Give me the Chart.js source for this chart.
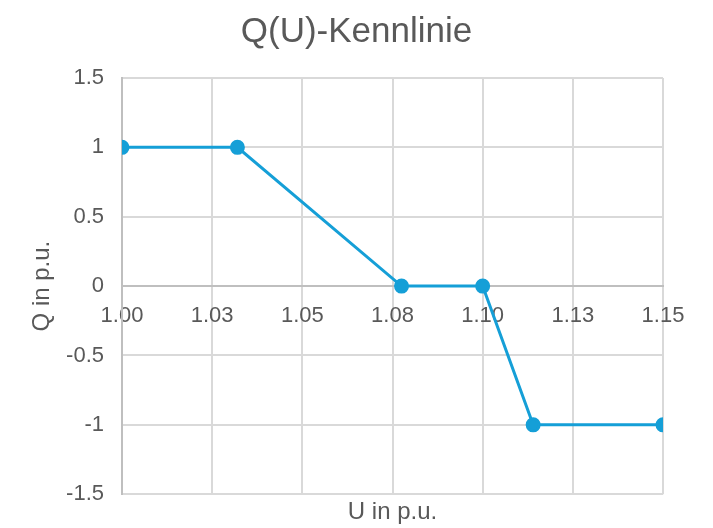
<!DOCTYPE html>
<html>
<head>
<meta charset="utf-8">
<script src="https://cdn.jsdelivr.net/npm/chart.js@4/dist/chart.umd.min.js"></script>
<style>
  html, body { margin: 0; padding: 0; background: #fff; }
  #wrap { width: 713px; height: 528px; }
</style>
</head>
<body>
<div id="wrap"><canvas id="qu"></canvas></div>
<script>
// Q(U) characteristic points
const uValues = [1.00, 1.032, 1.0775, 1.10, 1.114, 1.15];
const qValues = [1, 1, 0, 0, -1, -1];
const xTickLabels = ['1.00', '1.03', '1.05', '1.08', '1.10', '1.13', '1.15'];
const yTickLabels = ['-1.5', '-1', '-0.5', '0', '0.5', '1', '1.5'];

const textColor = '#595959';
const lineColor = '#159fd7';
const font = 'Arial, "Liberation Sans", sans-serif';

Chart.defaults.font.family = font;
Chart.defaults.color = textColor;

const points = uValues.map((u, i) => ({ x: u, y: qValues[i] }));

new Chart(document.getElementById('qu'), {
    type: 'scatter',
    data: {
        datasets: [{
            data: points,
            showLine: true,
            borderColor: lineColor,
            backgroundColor: lineColor,
            borderWidth: 3,
            pointRadius: 6,
            pointHoverRadius: 6
        }]
    },
    options: {
        responsive: true,
        maintainAspectRatio: false,
        animation: false,
        layout: { padding: { left: 28, right: 28, top: 0, bottom: 0 } },
        plugins: {
            legend: { display: false },
            tooltip: { enabled: false },
            title: {
                display: true,
                text: 'Q(U)-Kennlinie',
                color: textColor,
                font: { size: 35, weight: 'normal' },
                padding: { top: 11, bottom: 25 }
            }
        },
        scales: {
            x: {
                type: 'linear',
                position: { y: 0 },
                min: 1.0,
                max: 1.15,
                ticks: {
                    stepSize: 0.025,
                    padding: 17,
                    maxRotation: 0,
                    autoSkip: false,
                    font: { size: 22 },
                    color: textColor,
                    callback: (v, i) => xTickLabels[i]
                },
                grid: { color: '#d9d9d9', lineWidth: 2, drawTicks: false },
                border: { color: '#bfbfbf', width: 2 }
            },
            xTitle: {
                type: 'linear',
                position: 'bottom',
                axis: 'x',
                min: 1.0,
                max: 1.15,
                ticks: { display: false },
                grid: { display: false, drawTicks: false },
                border: { display: false },
                title: {
                    display: true,
                    text: 'U in p.u.',
                    color: textColor,
                    font: { size: 24 },
                    padding: { top: 4, bottom: 1 }
                }
            },
            y: {
                min: -1.5,
                max: 1.5,
                ticks: {
                    stepSize: 0.5,
                    padding: 18,
                    font: { size: 22 },
                    color: textColor,
                    callback: (v, i) => yTickLabels[i]
                },
                grid: { color: '#d9d9d9', lineWidth: 2, drawTicks: false },
                border: { color: '#bfbfbf', width: 2 },
                title: {
                    display: true,
                    text: 'Q in p.u.',
                    color: textColor,
                    font: { size: 24 },
                    padding: { top: 0, bottom: 0 }
                },
                afterFit: (scale) => { scale.width = 94; }
            },
            // empty spacer on the right so the plot ends where the reference does
            ySpacer: {
                type: 'linear',
                position: 'right',
                axis: 'y',
                min: -1.5,
                max: 1.5,
                ticks: { display: false },
                grid: { display: false, drawTicks: false },
                border: { display: false },
                afterFit: (scale) => { scale.width = 22; }
            }
        }
    }
});
</script>
</body>
</html>
